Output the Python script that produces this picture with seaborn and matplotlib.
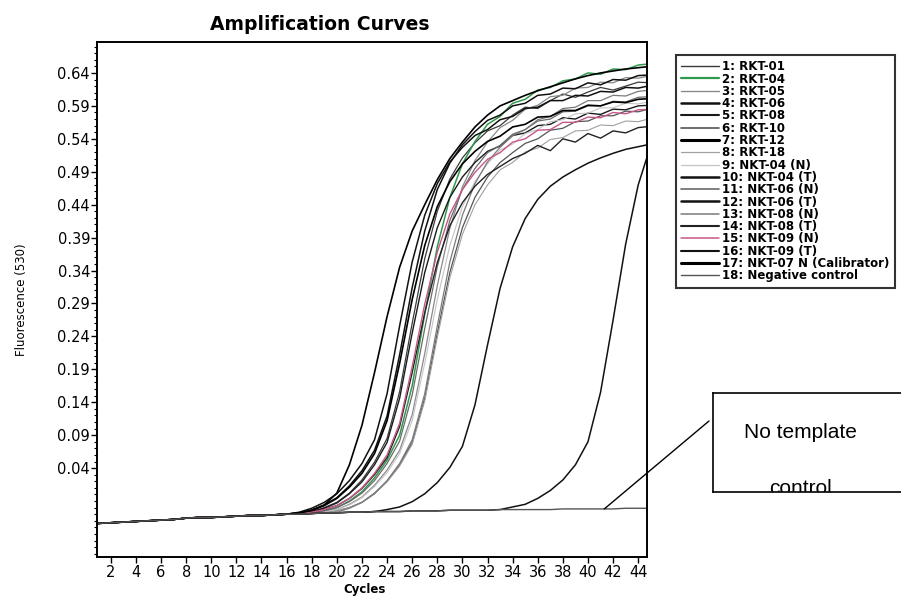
import matplotlib
matplotlib.use("Agg")
import matplotlib.pyplot as plt
from matplotlib.patches import Rectangle
from matplotlib.ticker import FixedLocator, MultipleLocator, FormatStrFormatter
import pandas as pd
import seaborn as sns

sns.set_theme(style="white")
plt.rcParams.update({
    "font.family": ["DejaVu Sans"],
    "text.color": "black",
    "axes.labelcolor": "black",
    "axes.edgecolor": "black",
    "axes.linewidth": 1.4,
    "xtick.color": "black",
    "ytick.color": "black",
    "xtick.bottom": True,
    "ytick.left": True,
})

# ---- data: fluorescence (530) per cycle ----
cycles = list(range(1, 46))

# shared pre-amplification baseline, cycles 1-45 (also the negative control)
baseline = [-0.044, -0.043, -0.042, -0.041, -0.040, -0.039, -0.038, -0.036, -0.035, -0.035,
            -0.034, -0.033, -0.032, -0.032, -0.031, -0.030, -0.030, -0.029, -0.028, -0.028,
            -0.027, -0.027, -0.026, -0.026, -0.026, -0.025, -0.025, -0.025, -0.024, -0.024,
            -0.024, -0.024, -0.023, -0.023, -0.023, -0.023, -0.023, -0.022, -0.022, -0.022,
            -0.022, -0.022, -0.021, -0.021, -0.021]

# sample readings from cycle 17 to 45 (before that they sit on the baseline)
rkt01 = [-0.029, -0.026, -0.020, -0.012, 0.002, 0.022, 0.049, 0.085, 0.156, 0.260, 0.358, 0.430, 0.479, 0.511,
         0.534, 0.552, 0.560, 0.576, 0.588, 0.586, 0.598, 0.608, 0.603, 0.611, 0.618, 0.614, 0.620, 0.626, 0.625]
rkt04 = [-0.030, -0.028, -0.025, -0.020, -0.010, 0.004, 0.025, 0.052, 0.090, 0.165, 0.274, 0.376, 0.451, 0.502,
         0.536, 0.562, 0.574, 0.594, 0.600, 0.614, 0.618, 0.628, 0.631, 0.640, 0.638, 0.646, 0.645, 0.652, 0.654]
rkt05 = [-0.030, -0.029, -0.026, -0.023, -0.015, -0.004, 0.014, 0.037, 0.067, 0.121, 0.214, 0.317, 0.404, 0.467,
         0.507, 0.535, 0.557, 0.568, 0.585, 0.591, 0.604, 0.606, 0.617, 0.618, 0.626, 0.625, 0.633, 0.632, 0.636]
rkt06 = [-0.028, -0.024, -0.016, -0.005, 0.013, 0.036, 0.067, 0.119, 0.212, 0.314, 0.400, 0.463, 0.503, 0.531,
         0.551, 0.568, 0.576, 0.590, 0.594, 0.606, 0.608, 0.617, 0.616, 0.625, 0.622, 0.630, 0.629, 0.636, 0.637]
rkt08 = [-0.029, -0.026, -0.021, -0.013, 0.001, 0.019, 0.045, 0.079, 0.146, 0.245, 0.337, 0.405, 0.451, 0.482,
         0.504, 0.521, 0.529, 0.545, 0.549, 0.560, 0.562, 0.572, 0.570, 0.579, 0.577, 0.585, 0.584, 0.590, 0.591]
rkt10 = [-0.030, -0.029, -0.028, -0.025, -0.020, -0.012, 0.002, 0.020, 0.045, 0.079, 0.146, 0.245, 0.337, 0.405,
         0.451, 0.482, 0.504, 0.519, 0.533, 0.540, 0.553, 0.556, 0.566, 0.567, 0.575, 0.575, 0.582, 0.581, 0.586]
rkt12 = [-0.028, -0.024, -0.016, 0.002, 0.045, 0.105, 0.185, 0.270, 0.345, 0.400, 0.440, 0.478, 0.510, 0.535,
         0.558, 0.576, 0.590, 0.598, 0.606, 0.613, 0.619, 0.625, 0.631, 0.636, 0.640, 0.643, 0.646, 0.648, 0.650]
rkt18 = [-0.030, -0.029, -0.028, -0.025, -0.020, -0.012, 0.001, 0.019, 0.043, 0.076, 0.142, 0.238, 0.329, 0.395,
         0.440, 0.470, 0.493, 0.504, 0.520, 0.526, 0.539, 0.542, 0.552, 0.553, 0.561, 0.560, 0.567, 0.566, 0.571]
nkt04n = [-0.030, -0.029, -0.026, -0.023, -0.016, -0.005, 0.012, 0.033, 0.062, 0.112, 0.199, 0.296, 0.378, 0.437,
          0.475, 0.502, 0.523, 0.532, 0.548, 0.554, 0.566, 0.569, 0.578, 0.579, 0.587, 0.587, 0.594, 0.593, 0.597]
nkt04t = [-0.027, -0.021, -0.012, 0.001, 0.021, 0.047, 0.083, 0.153, 0.256, 0.353, 0.424, 0.472, 0.505, 0.527,
          0.545, 0.554, 0.569, 0.574, 0.586, 0.588, 0.598, 0.598, 0.606, 0.605, 0.612, 0.611, 0.618, 0.617, 0.621]
nkt06n = [-0.030, -0.028, -0.025, -0.020, -0.011, 0.002, 0.021, 0.047, 0.081, 0.151, 0.252, 0.346, 0.416, 0.463,
          0.495, 0.519, 0.530, 0.547, 0.554, 0.567, 0.570, 0.581, 0.582, 0.590, 0.590, 0.597, 0.596, 0.603, 0.604]
nkt06t = [-0.030, -0.029, -0.028, -0.028, -0.027, -0.027, -0.026, -0.023, -0.019, -0.011, 0.001, 0.018, 0.041, 0.073,
          0.136, 0.227, 0.313, 0.376, 0.419, 0.448, 0.468, 0.482, 0.493, 0.503, 0.511, 0.518, 0.524, 0.528, 0.532]
nkt08n = [-0.030, -0.029, -0.028, -0.027, -0.021, -0.012, 0.001, 0.021, 0.047, 0.083, 0.153, 0.256, 0.353, 0.424,
          0.472, 0.505, 0.527, 0.545, 0.554, 0.569, 0.574, 0.586, 0.588, 0.598, 0.598, 0.606, 0.605, 0.612, 0.614]
nkt08t = [-0.030, -0.027, -0.023, -0.017, -0.006, 0.009, 0.030, 0.056, 0.103, 0.185, 0.276, 0.352, 0.408, 0.443,
          0.468, 0.486, 0.498, 0.510, 0.518, 0.530, 0.522, 0.540, 0.535, 0.548, 0.541, 0.552, 0.549, 0.557, 0.559]
nkt09n = [-0.030, -0.027, -0.023, -0.017, -0.006, 0.010, 0.032, 0.060, 0.108, 0.194, 0.289, 0.368, 0.426, 0.463,
          0.489, 0.509, 0.519, 0.535, 0.540, 0.553, 0.554, 0.565, 0.565, 0.573, 0.572, 0.580, 0.578, 0.584, 0.585]
nkt09t = [-0.030, -0.029, -0.028, -0.028, -0.027, -0.027, -0.026, -0.026, -0.026, -0.025, -0.025, -0.025, -0.024,
          -0.024, -0.024, -0.024, -0.023, -0.019, -0.015, -0.006, 0.006, 0.022, 0.045, 0.080, 0.155, 0.265, 0.380,
          0.470, 0.530]
nkt07 = [-0.028, -0.024, -0.017, -0.006, 0.011, 0.032, 0.062, 0.112, 0.199, 0.296, 0.378, 0.437, 0.475, 0.502,
         0.521, 0.536, 0.544, 0.558, 0.562, 0.573, 0.574, 0.583, 0.583, 0.591, 0.590, 0.596, 0.595, 0.600, 0.601]

labels = ["1: RKT-01", "2: RKT-04", "3: RKT-05", "4: RKT-06", "5: RKT-08", "6: RKT-10",
          "7: RKT-12", "8: RKT-18", "9: NKT-04 (N)", "10: NKT-04 (T)", "11: NKT-06 (N)",
          "12: NKT-06 (T)", "13: NKT-08 (N)", "14: NKT-08 (T)", "15: NKT-09 (N)",
          "16: NKT-09 (T)", "17: NKT-07 N (Calibrator)", "18: Negative control"]
samples = [rkt01, rkt04, rkt05, rkt06, rkt08, rkt10, rkt12, rkt18, nkt04n, nkt04t,
           nkt06n, nkt06t, nkt08n, nkt08t, nkt09n, nkt09t, nkt07, None]

# full 45-cycle series (baseline for cycles 1-16)
rows = []
for lab, s in zip(labels, samples):
    vals = baseline if s is None else baseline[:16] + s
    rows += [(lab, c, v) for c, v in zip(cycles, vals)]
df = pd.DataFrame(rows, columns=["sample", "cycle", "fluor"])

# line styling (plot width, legend width)
colors = ["#3a3a3a", "#2f9a4c", "#8a8a8a", "#111111", "#1a1a1a", "#555555", "#000000",
          "#a0a0a0", "#c4c4c4", "#111111", "#6a6a6a", "#111111", "#7a7a7a", "#222222",
          "#c9578a", "#111111", "#000000", "#555555"]
plot_lw = [0.9, 1.1, 0.9, 1.1, 1.0, 0.9, 1.2, 0.8, 0.8, 1.1, 0.9, 1.1, 0.9, 1.0, 1.0, 1.1, 1.2, 1.0]
leg_lw = [1.0, 1.6, 1.0, 1.8, 1.5, 1.2, 2.2, 0.9, 0.9, 1.8, 1.2, 1.8, 1.1, 1.5, 1.1, 1.5, 2.2, 1.0]

fig = plt.figure(figsize=(9.01, 5.96), dpi=100)
ax = fig.add_axes([97 / 901, 1 - 557 / 596, 550 / 901, 515 / 596])

for lab, col, lw in zip(labels, colors, plot_lw):
    sub = df[df["sample"] == lab]
    sns.lineplot(data=sub, x="cycle", y="fluor", ax=ax, color=col, lw=lw, label=lab)

ax.set_xlim(0.9, 44.7)
ax.set_ylim(-0.095, 0.687)
ax.xaxis.set_major_locator(FixedLocator(range(2, 45, 2)))
ax.yaxis.set_major_locator(FixedLocator([0.04 + 0.05 * i for i in range(13)]))
ax.yaxis.set_minor_locator(MultipleLocator(0.01))
ax.yaxis.set_major_formatter(FormatStrFormatter("%.2f"))
ax.tick_params(axis="both", which="major", length=4, width=1, direction="out")
ax.tick_params(axis="y", which="minor", length=2, width=0.8, direction="out", left=True)
ax.tick_params(axis="x", labelsize=10.5, pad=2)
ax.tick_params(axis="y", labelsize=10.5, pad=1)

ax.set_xlabel("Cycles", fontsize=8.5, fontweight="bold")
ax.xaxis.set_label_coords(0.487, -0.05)
ax.set_ylabel("Fluorescence (530)", fontsize=8.5)
ax.yaxis.set_label_coords(-0.125, 0.5)

fig.text(320 / 901, 1 - 24 / 596, "Amplification Curves", ha="center", va="center",
         fontsize=13.5, fontweight="heavy")

# legend outside the plot, right side
handles, labs = ax.get_legend_handles_labels()
ax.get_legend().remove()
leg = fig.legend(handles, labs, loc="upper left", bbox_to_anchor=(676 / 901, 1 - 55 / 596),
                 frameon=True, fancybox=False, edgecolor="black",
                 prop={"size": 8.5, "weight": "bold"},
                 handlelength=3.2, handletextpad=0.25, labelspacing=-0.06,
                 borderpad=0.45, borderaxespad=0)
leg.get_frame().set_linewidth(1.5)
for line, w in zip(leg.get_lines(), leg_lw):
    line.set_linewidth(w)

# "No template control" call-out
box_ax = fig.add_axes([713 / 901, 1 - 492 / 596, 0.22, 99 / 596])
box_ax.set_xticks([])
box_ax.set_yticks([])
for sp in box_ax.spines.values():
    sp.set_linewidth(1.2)
    sp.set_color("black")
    sp.set_zorder(6)
box_ax.text(0.44, 0.6, "No template", ha="center", va="center", fontsize=15,
            family="Liberation Sans", transform=box_ax.transAxes)
box_ax.text(0.44, -0.02, "control", ha="center", va="baseline", fontsize=15,
            family="Liberation Sans", transform=box_ax.transAxes)
# the box edge cuts the lower part of the second line
box_ax.add_patch(Rectangle((0, -0.6), 1, 0.6, transform=box_ax.transAxes, color="white",
                           clip_on=False, zorder=5))
ax.annotate("", xy=(41.3, baseline[40]), xytext=(709 / 901, 1 - 421 / 596),
            textcoords="figure fraction", annotation_clip=False,
            arrowprops=dict(arrowstyle="-", color="black", lw=1.0, shrinkA=0, shrinkB=0))

fig.savefig("out.png", dpi=100)
